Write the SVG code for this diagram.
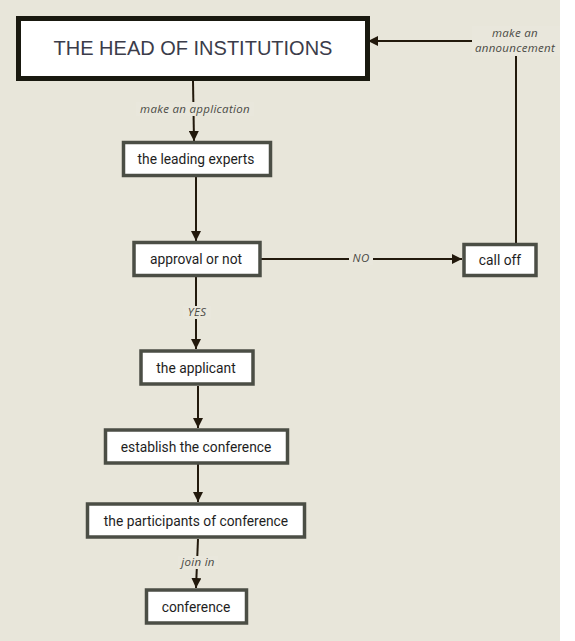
<svg xmlns="http://www.w3.org/2000/svg" width="575" height="641" viewBox="0 0 575 641">
<style>
.node rect{fill:#ffffff;stroke:#4b4e45;stroke-width:3.5}
.node text{font-family:Roboto,"Liberation Sans",sans-serif;font-size:13.8px;fill:#1e1e1e;text-anchor:middle}
.edge{fill:none;stroke:#22190c;stroke-width:2}
.lbl{font-family:"Open Sans",Lato,"Liberation Sans",sans-serif;font-style:italic;font-size:11.5px;letter-spacing:0.3px;fill:#4a4a44;text-anchor:middle}
.lblbg{fill:#e9e7dc}
</style>
<defs>
<marker id="arr" viewBox="0 0 10 10" refX="10" refY="5" markerWidth="10" markerHeight="10" markerUnits="userSpaceOnUse" orient="auto">
<path d="M0,0 L10,5 L0,10 Z" fill="#22190c"/>
</marker>
</defs>
<rect x="0" y="0" width="575" height="641" fill="#ffffff"/>
<rect x="0" y="0" width="560" height="641" fill="#e8e6da"/>
<g id="connectors">
<path class="edge" d="M193,81 L194,141" marker-end="url(#arr)"/>
<rect class="lblbg" x="136" y="102" width="118" height="14"/>
<text class="lbl" x="195" y="113">make an application</text>
<path class="edge" d="M196,177 L196,241" marker-end="url(#arr)"/>
<path class="edge" d="M196,277 L196,349" marker-end="url(#arr)"/>
<rect class="lblbg" x="183" y="306" width="28" height="13"/>
<text class="lbl" x="197" y="316">YES</text>
<path class="edge" d="M198,386 L198,428" marker-end="url(#arr)"/>
<path class="edge" d="M198,464 L198,502" marker-end="url(#arr)"/>
<path class="edge" d="M198,539 L196,588" marker-end="url(#arr)"/>
<rect class="lblbg" x="178" y="556" width="40" height="13"/>
<text class="lbl" x="198" y="566">join in</text>
<path class="edge" d="M261,259 L462,259" marker-end="url(#arr)"/>
<rect class="lblbg" x="349" y="252" width="24" height="13"/>
<text class="lbl" x="361" y="262">NO</text>
<path class="edge" d="M516,243 L516,41 L368,41" marker-end="url(#arr)"/>
<rect class="lblbg" x="472" y="26" width="88" height="30"/>
<text class="lbl" x="515" y="37">make an</text>
<text class="lbl" x="515" y="52">announcement</text>
</g>
<g id="head">
<rect x="18.5" y="18.5" width="349" height="60" fill="#ffffff" stroke="#19190f" stroke-width="5"/>
<text x="193" y="55" font-family="'Liberation Sans',Arial,sans-serif" font-size="20" fill="#3b3c4a" text-anchor="middle">THE HEAD OF INSTITUTIONS</text>
</g>
<g id="leading" class="node">
<rect x="123.5" y="142.5" width="147" height="33"/>
<text x="196" y="164">the leading experts</text>
</g>
<g id="approval" class="node">
<rect x="134" y="242.5" width="126" height="33"/>
<text x="196" y="264">approval or not</text>
</g>
<g id="calloff" class="node">
<rect x="464" y="244.5" width="72" height="31"/>
<text x="500" y="265">call off</text>
</g>
<g id="applicant" class="node">
<rect x="141" y="351" width="112" height="33"/>
<text x="196" y="373">the applicant</text>
</g>
<g id="establish" class="node">
<rect x="105.5" y="430" width="182" height="33"/>
<text x="196" y="452">establish the conference</text>
</g>
<g id="participants" class="node">
<rect x="87.5" y="504" width="217" height="33"/>
<text x="196" y="526">the participants of conference</text>
</g>
<g id="conference" class="node">
<rect x="146.5" y="590" width="100" height="33"/>
<text x="196" y="612">conference</text>
</g>
</svg>
